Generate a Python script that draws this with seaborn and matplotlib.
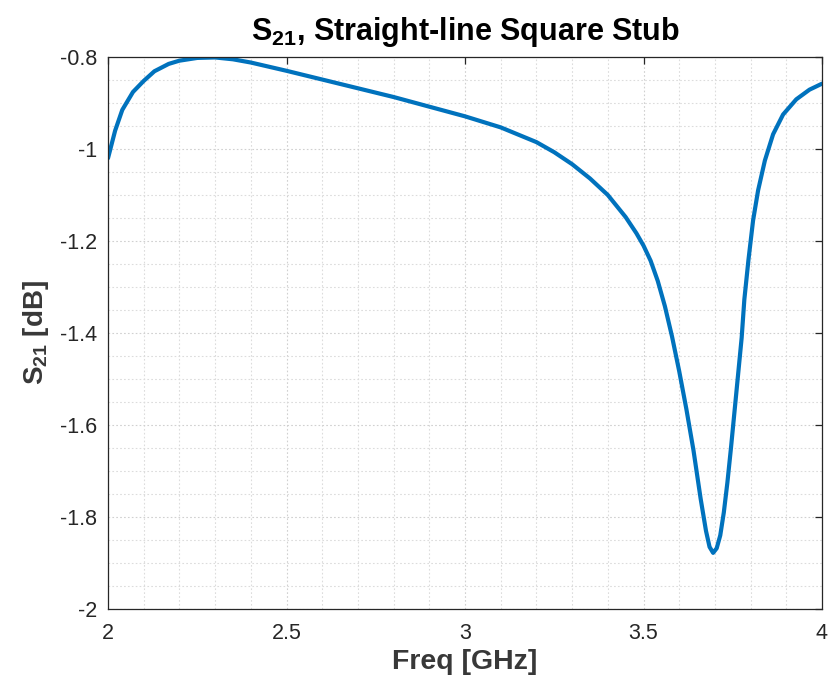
import matplotlib
matplotlib.use("Agg")
import matplotlib.pyplot as plt
import seaborn as sns
import pandas as pd
from matplotlib.ticker import FixedLocator, MultipleLocator

freq_ghz = [2.00, 2.02, 2.04, 2.07, 2.10, 2.13, 2.17, 2.20, 2.25, 2.30, 2.35, 2.40,
            2.45, 2.50, 2.60, 2.70, 2.80, 2.90, 3.00, 3.10, 3.20, 3.25, 3.30, 3.35,
            3.40, 3.45, 3.48, 3.50, 3.52, 3.54, 3.56, 3.58, 3.60, 3.62, 3.64, 3.66,
            3.675, 3.685, 3.695, 3.705, 3.715, 3.725, 3.735, 3.745, 3.755, 3.765,
            3.775, 3.7825, 3.794, 3.807, 3.821, 3.84, 3.863, 3.891, 3.928, 3.965, 4.00]
s21_db = [-1.020, -0.960, -0.915, -0.876, -0.852, -0.831, -0.815, -0.808, -0.802,
          -0.801, -0.805, -0.812, -0.821, -0.830, -0.849, -0.868, -0.887, -0.908,
          -0.929, -0.953, -0.985, -1.007, -1.033, -1.064, -1.100, -1.148, -1.183,
          -1.210, -1.243, -1.287, -1.342, -1.408, -1.483, -1.565, -1.655, -1.760,
          -1.830, -1.865, -1.878, -1.868, -1.840, -1.790, -1.725, -1.650, -1.570,
          -1.490, -1.410, -1.327, -1.241, -1.155, -1.090, -1.025, -0.968, -0.925,
          -0.892, -0.871, -0.858]

x_ticks = [2, 2.5, 3, 3.5, 4]
x_tick_labels = ["2", "2.5", "3", "3.5", "4"]
y_ticks = [-2, -1.8, -1.6, -1.4, -1.2, -1, -0.8]
y_tick_labels = ["-2", "-1.8", "-1.6", "-1.4", "-1.2", "-1", "-0.8"]

title = r"$\mathbf{S_{21}}$, Straight-line Square Stub"
xlabel = "Freq [GHz]"
ylabel = r"$\mathbf{S_{21}}$ [dB]"

sns.set_style("white")
plt.rcParams["font.family"] = ["Liberation Sans", "DejaVu Sans"]
plt.rcParams["mathtext.fontset"] = "custom"
plt.rcParams["mathtext.rm"] = "Liberation Sans"
plt.rcParams["mathtext.bf"] = "Liberation Sans:bold"
plt.rcParams["mathtext.it"] = "Liberation Sans:italic"

df = pd.DataFrame({"freq": freq_ghz, "s21": s21_db})

fig = plt.figure(figsize=(8.32, 6.91), dpi=100)
ax = fig.add_axes([108 / 832, 1 - 609 / 691, (822 - 108) / 832, (609 - 57) / 691])

sns.lineplot(data=df, x="freq", y="s21", ax=ax, color="#0072BD", linewidth=3.0,
             sort=False)
for ln in ax.get_lines():
    ln.set_solid_joinstyle("round")
    ln.set_solid_capstyle("round")

ax.set_xlim(2, 4)
ax.set_ylim(-2, -0.8)
ax.xaxis.set_major_locator(FixedLocator(x_ticks))
ax.set_xticklabels(x_tick_labels)
ax.yaxis.set_major_locator(FixedLocator(y_ticks))
ax.set_yticklabels(y_tick_labels)
ax.xaxis.set_minor_locator(MultipleLocator(0.1))
ax.yaxis.set_minor_locator(MultipleLocator(0.05))

ax.grid(True, which="major", linestyle=(0, (1.5, 2)), color="#d0d0d0", linewidth=0.8)
ax.grid(True, which="minor", linestyle=(0, (1.5, 2)), color="#dcdcdc", linewidth=0.8)
ax.set_axisbelow(True)

ax.tick_params(axis="both", which="major", direction="in", length=5, width=0.9,
               top=True, right=True, labelsize=15.5, colors="#262626")
ax.tick_params(axis="x", which="major", pad=10)
ax.tick_params(axis="y", which="major", pad=8)
ax.tick_params(axis="both", which="minor", length=0, top=True, right=True)
for sp in ax.spines.values():
    sp.set_color("#262626")
    sp.set_linewidth(0.9)

ax.set_title(title, fontsize=22, fontweight="bold", color="black", pad=12)
ax.set_xlabel(xlabel, fontsize=20.5, fontweight="bold", color="#383838", labelpad=4)
ax.set_ylabel(ylabel, fontsize=20, fontweight="bold", color="#383838", labelpad=6)

fig.savefig("out.png", dpi=100)
